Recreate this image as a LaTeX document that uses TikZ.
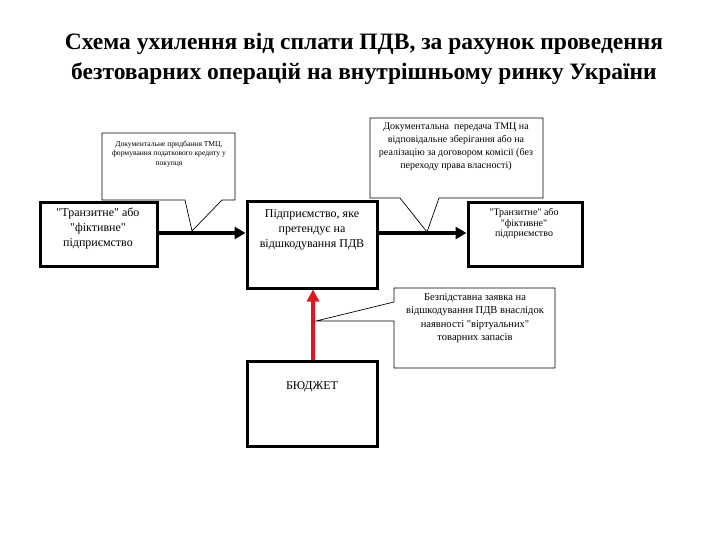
\documentclass[tikz,border=0pt]{standalone}
\usepackage{fontspec}
\setmainfont{Liberation Serif}
\newfontfamily\plainserif{Liberation Serif}
\usetikzlibrary{arrows.meta}
\definecolor{budgetred}{RGB}{222,24,34}
\tikzset{
  bigbox/.style={draw=black, line width=3pt, fill=white, inner sep=0pt},
  thinline/.style={draw=black, line width=0.7pt, fill=white, line join=miter},
  flow/.style={line width=4pt, -{Triangle[length=11pt,width=12pt]}},
  redflow/.style={line width=4pt, draw=budgetred, -{Triangle[length=12pt,width=12pt]}},
  txt/.style={align=center, inner sep=0pt, font=\plainserif\fontsize{12}{15}\selectfont},
  smalltxt/.style={align=center, inner sep=0pt, font=\plainserif\fontsize{10}{10.5}\selectfont},
  calltxt/.style={align=center, inner sep=0pt, font=\plainserif\fontsize{10}{12.8}\selectfont},
  calltxtb/.style={align=center, inner sep=0pt, font=\plainserif\fontsize{10.5}{13.3}\selectfont},
  tinytxt/.style={align=center, inner sep=0pt, font=\plainserif\fontsize{7.6}{9.6}\selectfont},
}
\begin{document}
\begin{tikzpicture}[x=1pt,y=-1pt]
\useasboundingbox (0,0) rectangle (720,540);
\fill[white] (0,0) rectangle (720,540);

% title
\node[inner sep=0pt, align=center, font=\fontsize{23.5}{30}\bfseries\selectfont] (title) at (364,59)
 {Схема ухилення від сплати ПДВ, за рахунок проведення\\безтоварних операцій на внутрішньому ринку України};

% main boxes
\node[bigbox, minimum width=117pt, minimum height=64pt] (trans1) at (98.5,234.5) {};
\node[txt] (trans1t) at (98,228) {"Транзитне" або\\"фіктивне"\\підприємство};

\node[bigbox, minimum width=130pt, minimum height=86pt] (firm) at (312,245) {};
\node[txt] (firmt) at (312,229.5) {Підприємство, яке\\претендує на\\відшкодування ПДВ};

\node[bigbox, minimum width=114pt, minimum height=63pt] (trans2) at (525,234.5) {};
\node[smalltxt] (trans2t) at (524,223.5) {"Транзитне" або\\"фіктивне"\\підприємство};

\node[bigbox, minimum width=130pt, minimum height=85pt] (budget) at (312,403.5) {};
\node[txt] (budgett) at (312,387) {БЮДЖЕТ};

% arrows
\draw[flow] (trans1.east |- 0,233) -- (firm.west |- 0,233);
\draw[flow] (firm.east |- 0,233) -- (trans2.west |- 0,233);
\draw[redflow] (budget.north -| 313,0) -- (firm.south -| 313,0);

% callout 1
\coordinate (c1tip) at (192,231);
\draw[thinline] (102,133) -- (235,133) -- (235,200) -- (222,200) -- (c1tip) -- (185,200) -- (102,200) -- cycle;
\node[tinytxt] (c1t) at (169,154) {Документальне придбання ТМЦ,\\формування податкового кредиту у\\покупця};

% callout 2
\coordinate (c2tip) at (427,232);
\draw[thinline] (370,118) -- (543,118) -- (543,198) -- (439,198) -- (c2tip) -- (400,198) -- (370,198) -- cycle;
\node[calltxt] (c2t) at (456,147) {Документальна\ \ передача ТМЦ на\\відповідальне зберігання або на\\реалізацію за договором комісії (без\\переходу права власності)};

% callout 3
\coordinate (c3tip) at (316,321);
\draw[thinline] (394,288) -- (555,288) -- (555,368) -- (394,368) -- (394,321) -- (c3tip) -- (394,302) -- cycle;
\node[calltxtb] (c3t) at (475,318) {Безпідставна заявка на\\відшкодування ПДВ внаслідок\\наявності "віртуальних"\\товарних запасів};
\end{tikzpicture}
\end{document}
